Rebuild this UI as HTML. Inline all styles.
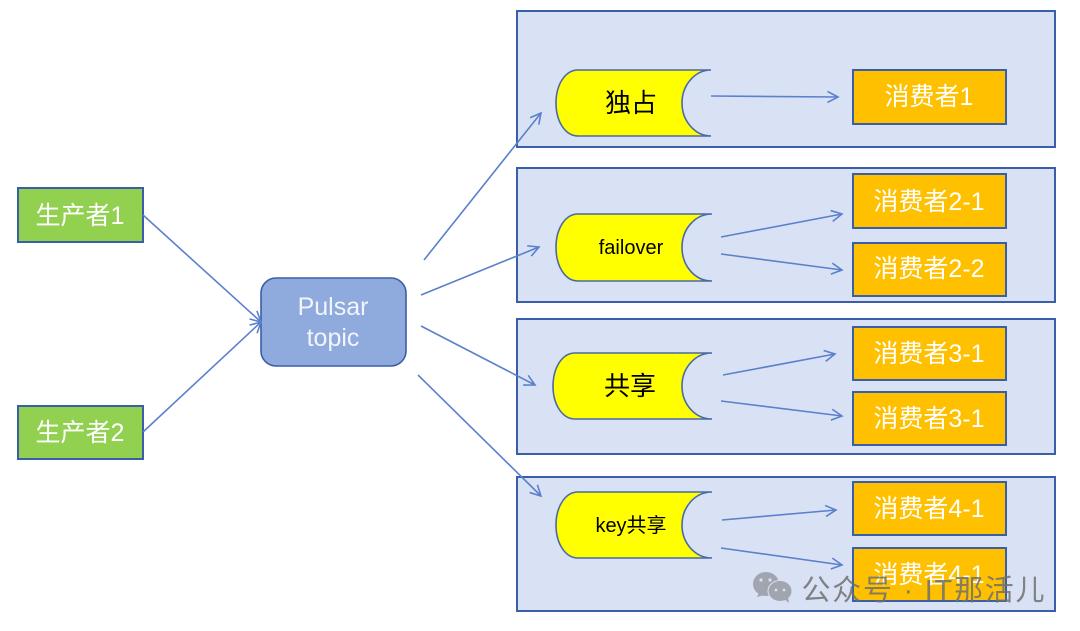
<!DOCTYPE html>
<html><head><meta charset="utf-8"><style>
html,body{margin:0;padding:0;background:#fff;width:1080px;height:631px;overflow:hidden}
svg{display:block;filter:blur(0.3px)}
text{font-family:"Liberation Sans","Noto Sans CJK SC",sans-serif;text-anchor:middle}
.box{fill:#d9e2f4;stroke:#3a5ea8;stroke-width:2}
.c{fill:#ffc000;stroke:#3a5ea8;stroke-width:2}
.p{fill:#92d050;stroke:#3a5ea8;stroke-width:2}
.w{fill:#fff;font-size:25px}
.d{fill:#ff0;stroke:#4a69a8;stroke-width:1.6}
.a{fill:none;stroke:#5b80cc;stroke-width:1.6;marker-end:url(#m)}
</style></head><body>
<svg width="1080" height="631" viewBox="0 0 1080 631" xmlns="http://www.w3.org/2000/svg">
<defs>
<marker id="m" markerUnits="userSpaceOnUse" markerWidth="16" markerHeight="16" refX="12" refY="7" orient="auto">
<path d="M1.5 1.500L12 7L1.5 12.500" fill="none" stroke="#5b80cc" stroke-width="1.6"/>
</marker>
</defs>
<rect width="1080" height="631" fill="#fff"/>
<rect class="box" x="517" y="11" width="538" height="136"/>
<rect class="box" x="517" y="168" width="538" height="134"/>
<rect class="box" x="517" y="319" width="538" height="135"/>
<rect class="box" x="517" y="477" width="538" height="134"/>

<rect class="p" x="18" y="188" width="125" height="54"/>
<text class="w" x="80" y="224">生产者1</text>
<rect class="p" x="18" y="406" width="125" height="53"/>
<text class="w" x="80" y="441">生产者2</text>

<rect x="261" y="278" width="145" height="88" rx="15" fill="#8faadc" stroke="#3a5ea8" stroke-width="1.6"/>
<text class="w" x="333" y="315" style="fill:#f2f5fb">Pulsar</text>
<text class="w" x="333" y="346" style="fill:#f2f5fb">topic</text>

<path class="d" d="M711 70H578C565 70 556 85 556 103C556 121 565 136 578 136H711C695 136 682 121 682 103C682 85 695 70 711 70Z"/>
<text x="631" y="112" font-size="26" fill="#000">独占</text>
<path class="d" d="M712 214H578C565 214 556 229 556 247.500C556 266 565 281 578 281H712C695 281 682 266 682 247.500C682 229 695 214 712 214Z"/>
<text x="631" y="254" font-size="20" fill="#000">failover</text>
<path class="d" d="M712 353H575C562 353 553 368 553 386C553 404 562 419 575 419H712C695 419 682 404 682 386C682 368 695 353 712 353Z"/>
<text x="630" y="395" font-size="26" fill="#000">共享</text>
<path class="d" d="M712 492H578C565 492 556 507 556 525C556 543 565 558 578 558H712C695 558 682 543 682 525C682 507 695 492 712 492Z"/>
<text x="631" y="532" font-size="20" fill="#000">key共享</text>

<rect class="c" x="853" y="70" width="153" height="54"/>
<text class="w" x="929" y="105">消费者1</text>
<rect class="c" x="853" y="174" width="153" height="54"/>
<text class="w" x="929" y="210">消费者2-1</text>
<rect class="c" x="853" y="243" width="153" height="53"/>
<text class="w" x="929" y="277">消费者2-2</text>
<rect class="c" x="853" y="327" width="153" height="53"/>
<text class="w" x="929" y="362">消费者3-1</text>
<rect class="c" x="853" y="392" width="153" height="53"/>
<text class="w" x="929" y="427">消费者3-1</text>
<rect class="c" x="853" y="482" width="153" height="53"/>
<text class="w" x="929" y="517">消费者4-1</text>
<rect class="c" x="853" y="548" width="153" height="53"/>
<text class="w" x="929" y="583">消费者4-1</text>

<path class="a" d="M143 215L261 322"/>
<path class="a" d="M143 432L261 322"/>
<path class="a" d="M424 260L541 113"/>
<path class="a" d="M421 295L539 247"/>
<path class="a" d="M421 326L535 385"/>
<path class="a" d="M418 375L541 496"/>
<path class="a" d="M711 96L838 97"/>
<path class="a" d="M721 237L842 214"/>
<path class="a" d="M721 254L842 270"/>
<path class="a" d="M723 375L835 354"/>
<path class="a" d="M721 401L842 416"/>
<path class="a" d="M722 520L836 510"/>
<path class="a" d="M721 548L842 565"/>

<g opacity="0.9">
<ellipse cx="766" cy="584" rx="13" ry="12" fill="#9a9fa8"/>
<path d="M759 593L757 597L765 595Z" fill="#9a9fa8"/>
<ellipse cx="780" cy="591" rx="12" ry="10.500" fill="#9a9fa8" stroke="#d9e2f4" stroke-width="1"/>
<path d="M784 599L789 603L788 597Z" fill="#9a9fa8"/>
<circle cx="761" cy="580" r="1.600" fill="#d9e2f4"/><circle cx="770" cy="580" r="1.600" fill="#d9e2f4"/>
<circle cx="776" cy="590" r="1.400" fill="#d9e2f4"/><circle cx="784" cy="590" r="1.400" fill="#d9e2f4"/>
</g>
<text x="923" y="600" font-size="29" fill="#707070" fill-opacity="0.85" textLength="243" lengthAdjust="spacing">公众号 · IT那活儿</text>
</svg>
</body></html>
